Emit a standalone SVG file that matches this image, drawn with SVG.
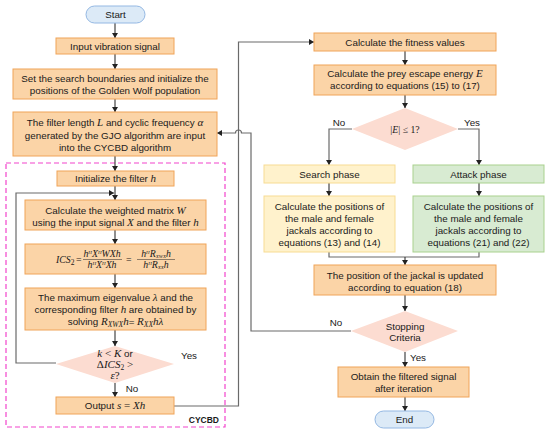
<svg xmlns="http://www.w3.org/2000/svg" width="550" height="433" viewBox="0 0 550 433">
<style>
text{font-family:"Liberation Sans",Arial,sans-serif;font-size:9.8px;fill:#1a1a1a;}
.c{text-anchor:middle;}
.m{font-family:"Liberation Serif","Times New Roman",serif;font-style:italic;}
.box{fill:#FBD4A7;stroke:#F0A458;stroke-width:1;}
.srch{fill:#FFF2CC;stroke:#F7DC93;stroke-width:1;}
.atk{fill:#D8EBD2;stroke:#A9D18E;stroke-width:1;}
.dia{fill:#FCDCD1;stroke:none;}
.pill{fill:#DCEAF7;stroke:#94B8E3;stroke-width:1;}
.ln{fill:none;stroke:#6a6a6a;stroke-width:1.2;}
.ar{fill:none;stroke:#333;stroke-width:1.1;}
</style>
<defs>
<marker id="ah" markerWidth="6" markerHeight="6" refX="5" refY="3" orient="auto" markerUnits="userSpaceOnUse">
<path d="M0,0 L5,3 L0,6 Z" fill="#222"/>
</marker>
</defs>

<!-- CYCBD dashed frame -->
<g id="cycbd-frame">
<rect x="6" y="163" width="219" height="264" fill="none" stroke="#F244CC" stroke-width="1.2" stroke-dasharray="5,3"/>
<text x="219" y="423" style="text-anchor:end;font-weight:bold;font-size:8.5px">CYCBD</text>
</g>

<g id="connectors">
<line class="ar" x1="115" y1="23" x2="115" y2="38" marker-end="url(#ah)"/>
<line class="ar" x1="115" y1="54" x2="115" y2="69" marker-end="url(#ah)"/>
<line class="ar" x1="115" y1="99" x2="115" y2="112" marker-end="url(#ah)"/>
<line class="ar" x1="115" y1="156" x2="115" y2="171" marker-end="url(#ah)"/>
<line class="ar" x1="115" y1="186" x2="115" y2="200" marker-end="url(#ah)"/>
<line class="ar" x1="115" y1="230" x2="115" y2="244" marker-end="url(#ah)"/>
<line class="ar" x1="115" y1="274" x2="115" y2="288" marker-end="url(#ah)"/>
<line class="ar" x1="115" y1="330" x2="115" y2="346" marker-end="url(#ah)"/>
<line class="ar" x1="115" y1="383" x2="115" y2="397" marker-end="url(#ah)"/>
<path class="ln" d="M56,363 H16 V193 H114" marker-end="url(#ah)"/>
<path class="ln" d="M174,406 H238.5 V42 H314" marker-end="url(#ah)"/>
<path class="ln" d="M351,331 H251 V133 H241.5 A3,3 0 0 0 235.5,133 H217" marker-end="url(#ah)"/>

<line class="ar" x1="405" y1="51" x2="405" y2="65" marker-end="url(#ah)"/>
<line class="ar" x1="405" y1="95" x2="405" y2="108" marker-end="url(#ah)"/>
<path class="ln" d="M352,129 H329 V165" marker-end="url(#ah)"/>
<path class="ln" d="M458,129 H479 V165" marker-end="url(#ah)"/>
<line class="ar" x1="329" y1="183" x2="329" y2="196" marker-end="url(#ah)"/>
<line class="ar" x1="479" y1="183" x2="479" y2="196" marker-end="url(#ah)"/>
<path class="ln" d="M329,252 V257 H479 V252"/>
<line class="ar" x1="405" y1="257" x2="405" y2="265" marker-end="url(#ah)"/>
<line class="ar" x1="405" y1="295" x2="405" y2="311" marker-end="url(#ah)"/>
<line class="ar" x1="405" y1="352" x2="405" y2="367" marker-end="url(#ah)"/>
<line class="ar" x1="405" y1="397" x2="405" y2="411" marker-end="url(#ah)"/>

<text x="132" y="392" class="c">No</text>
<text x="189" y="359" class="c">Yes</text>
<text x="339" y="126" class="c">No</text>
<text x="472" y="126" class="c">Yes</text>
<text x="336" y="326" class="c">No</text>
<text x="418" y="361" class="c">Yes</text>
</g>

<g id="start">
<rect class="pill" x="86" y="6" width="59" height="17" rx="8.5"/>
<text x="115.5" y="18.3" class="c">Start</text>
</g>

<g id="input">
<rect class="box" x="56" y="38" width="118" height="16"/>
<text x="115" y="49.5" class="c">Input vibration signal</text>
</g>

<g id="init-pop">
<rect class="box" x="13" y="69" width="204" height="30"/>
<text x="115" y="81.5" class="c">Set the search boundaries and initialize the</text>
<text x="115" y="93.5" class="c">positions of the Golden Wolf population</text>
</g>

<g id="gjo-input">
<rect class="box" x="13" y="112" width="204" height="44"/>
<text x="115" y="125.5" class="c">The filter length <tspan class="m" font-size="11">L</tspan> and cyclic frequency <tspan class="m" font-size="11">α</tspan></text>
<text x="115" y="138.5" class="c">generated by the GJO algorithm are input</text>
<text x="115" y="151" class="c">into the CYCBD algorithm</text>
</g>

<g id="init-filter">
<rect class="box" x="57" y="171" width="117" height="15"/>
<text x="115.5" y="182" class="c">Initialize the filter <tspan class="m" font-size="11">h</tspan></text>
</g>

<g id="weighted">
<rect class="box" x="25" y="200" width="181" height="30"/>
<text x="115.5" y="214" class="c">Calculate the weighted matrix <tspan class="m" font-size="11">W</tspan></text>
<text x="115.5" y="225.5" class="c">using the input signal <tspan class="m" font-size="11">X</tspan> and the filter <tspan class="m" font-size="11">h</tspan></text>
</g>

<g id="ics">
<rect class="box" x="25" y="244" width="181" height="30"/>
<text x="56" y="262.5" class="m" font-size="11">ICS<tspan font-size="7.5" dy="2.5" font-style="normal">2</tspan></text>
<text x="76" y="262.5" font-size="11" style="font-family:'Liberation Serif',serif">=</text>
<text x="102" y="256.5" class="c m" font-size="7.2">h<tspan font-size="5" dy="-2.5">H</tspan><tspan dy="2.5">X</tspan><tspan font-size="5" dy="-2.5">H</tspan><tspan dy="2.5">WXh</tspan></text>
<line x1="83" y1="259.5" x2="122" y2="259.5" stroke="#222" stroke-width="0.5"/>
<text x="102" y="267.5" class="c m" font-size="7.2">h<tspan font-size="5" dy="-2.5">H</tspan><tspan dy="2.5">X</tspan><tspan font-size="5" dy="-2.5">H</tspan><tspan dy="2.5">Xh</tspan></text>
<text x="126" y="262.5" font-size="11" style="font-family:'Liberation Serif',serif">=</text>
<text x="156" y="256.5" class="c m" font-size="7.2">h<tspan font-size="5" dy="-2.5">H</tspan><tspan dy="2.5">R</tspan><tspan font-size="5" dy="1.5">XWX</tspan><tspan dy="-1.5">h</tspan></text>
<line x1="137" y1="259.5" x2="175" y2="259.5" stroke="#222" stroke-width="0.5"/>
<text x="156" y="267.5" class="c m" font-size="7.2">h<tspan font-size="5" dy="-2.5">H</tspan><tspan dy="2.5">R</tspan><tspan font-size="5" dy="1.5">XX</tspan><tspan dy="-1.5">h</tspan></text>
</g>

<g id="eigen">
<rect class="box" x="25" y="288" width="181" height="42"/>
<text x="115.5" y="300.5" class="c">The maximum eigenvalue <tspan class="m" font-size="11">λ</tspan> and the</text>
<text x="115.5" y="312.5" class="c">corresponding filter <tspan class="m" font-size="11">h</tspan> are obtained by</text>
<text x="115.5" y="325" class="c">solving <tspan class="m" font-size="11">R</tspan><tspan class="m" font-size="7.5" dy="2">XWX</tspan><tspan class="m" font-size="11" dy="-2">h</tspan>= <tspan class="m" font-size="11">R</tspan><tspan class="m" font-size="7.5" dy="2">XX</tspan><tspan class="m" font-size="11" dy="-2">hλ</tspan></text>
</g>

<g id="loop-check">
<polygon class="dia" points="115,346 174,364 115,383 56,364"/>
<text x="115" y="356.5" class="c"><tspan class="m" font-size="11">k</tspan> <tspan style="font-family:'Liberation Serif',serif" font-size="11">&lt;</tspan> <tspan class="m" font-size="11">K</tspan> or</text>
<text x="115" y="367.5" class="c"><tspan style="font-family:'Liberation Serif',serif" font-size="11">Δ</tspan><tspan class="m" font-size="11">ICS</tspan><tspan style="font-family:'Liberation Serif',serif" font-size="7.5" dy="2">2</tspan><tspan style="font-family:'Liberation Serif',serif" font-size="11" dy="-2"> &gt;</tspan></text>
<text x="115" y="379" class="c"><tspan class="m" font-size="11">ε</tspan><tspan style="font-family:'Liberation Serif',serif" font-size="11">?</tspan></text>
</g>

<g id="output">
<rect class="box" x="56" y="397" width="118" height="17"/>
<text x="115" y="409" class="c">Output <tspan class="m" font-size="11">s</tspan> <tspan style="font-family:'Liberation Serif',serif" font-size="11">=</tspan> <tspan class="m" font-size="11">Xh</tspan></text>
</g>

<g id="fitness">
<rect class="box" x="314" y="33" width="182" height="18"/>
<text x="405" y="45.5" class="c">Calculate the fitness values</text>
</g>

<g id="escape-energy">
<rect class="box" x="314" y="65" width="182" height="30"/>
<text x="405" y="76.5" class="c">Calculate the prey escape energy <tspan class="m" font-size="11">E</tspan></text>
<text x="405" y="89" class="c">according to equations (15) to (17)</text>
</g>

<g id="energy-check">
<polygon class="dia" points="405,108 458,129 405,150 352,129"/>
<text x="405" y="133" class="c" style="font-family:'Liberation Serif',serif" font-size="11">|<tspan class="m">E</tspan>| ≤ 1?</text>
</g>

<g id="search">
<rect class="srch" x="264" y="165" width="131" height="18"/>
<text x="329.5" y="177.5" class="c">Search phase</text>
</g>

<g id="attack">
<rect class="atk" x="413" y="165" width="131" height="18"/>
<text x="478.5" y="177.5" class="c">Attack phase</text>
</g>

<g id="search-calc">
<rect class="srch" x="264" y="196" width="131" height="56"/>
<text x="329.5" y="209.5" class="c">Calculate the positions of</text>
<text x="329.5" y="221.5" class="c">the male and female</text>
<text x="329.5" y="233.5" class="c">jackals according to</text>
<text x="329.5" y="245.5" class="c">equations (13) and (14)</text>
</g>

<g id="attack-calc">
<rect class="atk" x="413" y="196" width="131" height="56"/>
<text x="478.5" y="209.5" class="c">Calculate the positions of</text>
<text x="478.5" y="221.5" class="c">the male and female</text>
<text x="478.5" y="233.5" class="c">jackals according to</text>
<text x="478.5" y="245.5" class="c">equations (21) and (22)</text>
</g>

<g id="update">
<rect class="box" x="314" y="265" width="182" height="30"/>
<text x="405" y="278.5" class="c">The position of the jackal is updated</text>
<text x="405" y="290.5" class="c">according to equation (18)</text>
</g>

<g id="stopping">
<polygon class="dia" points="405,311 458,331 405,352 351,331"/>
<text x="405" y="329.5" class="c">Stopping</text>
<text x="405" y="341" class="c">Criteria</text>
</g>

<g id="obtain">
<rect class="box" x="338" y="367" width="131" height="30"/>
<text x="403.5" y="380" class="c">Obtain the filtered signal</text>
<text x="403.5" y="391.5" class="c">after iteration</text>
</g>

<g id="end">
<rect class="pill" x="375" y="411" width="59" height="17" rx="8.5"/>
<text x="404.5" y="423.3" class="c">End</text>
</g>
</svg>
